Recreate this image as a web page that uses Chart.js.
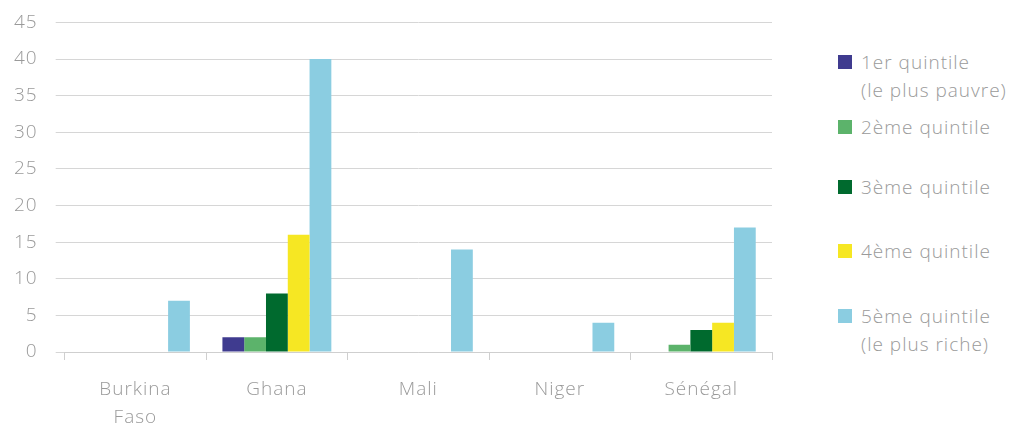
<!DOCTYPE html>
<html>
<head>
<meta charset="utf-8">
<script src="https://cdn.jsdelivr.net/npm/chart.js@4"></script>
<style>
  body { margin: 0; background: #fff; font-family: "Open Sans", sans-serif; overflow: hidden; }
  #wrap { position: relative; width: 1013px; height: 426px; overflow: hidden; }
  #box { position: absolute; left: -8px; top: -7px; width: 798px; height: 454px; }
  #legend { position: absolute; left: 838px; top: 48px; color: #9a9a9a; font-size: 19px; font-weight: 300; letter-spacing: 1px; }
  .item { position: absolute; left: 0; white-space: nowrap; line-height: 28px; }
  .sw { position: absolute; left: 0; top: 7px; width: 14px; height: 14px; }
  .txt { position: absolute; left: 23px; top: 0; }
</style>
</head>
<body>
<div id="wrap">
  <div id="box"><canvas id="chart"></canvas></div>
  <div id="legend"></div>
</div>
<script>
const pays = [['Burkina', 'Faso'], 'Ghana', 'Mali', 'Niger', 'Sénégal'];
const quintiles = [['1er quintile', '(le plus pauvre)'], ['2ème quintile'], ['3ème quintile'], ['4ème quintile'], ['5ème quintile', '(le plus riche)']];
const couleurs = ['#3f3b8f', '#5cb36b', '#006a2e', '#f6e723', '#8bcde1'];
const q1 = [0, 2, 0, 0, 0];
const q2 = [0, 2, 0, 0, 1];
const q3 = [0, 8, 0, 0, 3];
const q4 = [0, 16, 0, 0, 4];
const q5 = [7, 40, 14, 4, 17];
const yTicks = [0, 5, 10, 15, 20, 25, 30, 35, 40, 45];

const series = [q1, q2, q3, q4, q5];
const legendTop = [0, 65, 125, 189, 254];

// legende a droite
const lg = document.getElementById('legend');
quintiles.forEach((q, i) => {
  const d = document.createElement('div');
  d.className = 'item';
  d.style.top = legendTop[i] + 'px';
  d.innerHTML = '<span class="sw" style="background:' + couleurs[i] + '"></span><span class="txt">' + q.join('<br>') + '</span>';
  lg.appendChild(d);
});

// espacement des lettres comme dans l'original
const spacing = {
  id: 'spacing',
  beforeLayout(chart) { chart.ctx.letterSpacing = '1px'; },
  beforeDraw(chart) { chart.ctx.letterSpacing = '1px'; }
};

new Chart(document.getElementById('chart'), {
  type: 'bar',
  data: {
    labels: pays,
    datasets: series.map((s, i) => ({
      label: quintiles[i].join(' '),
      data: s,
      backgroundColor: couleurs[i],
      borderWidth: 0,
      categoryPercentage: 0.77,
      barPercentage: 1
    }))
  },
  options: {
    responsive: true,
    maintainAspectRatio: false,
    animation: false,
    layout: { padding: { left: 4, top: 0, right: 18, bottom: 0 } },
    plugins: { legend: { display: false }, tooltip: { enabled: false } },
    scales: {
      x: {
        grid: { offset: true, drawOnChartArea: false, drawTicks: true, tickLength: 8, color: '#cfcfcf' },
        border: { display: true, color: '#cfcfcf' },
        ticks: { color: '#9a9a9a', padding: 15, font: { family: 'Open Sans', size: 19, weight: 300, lineHeight: 1.5 } }
      },
      y: {
        min: 0,
        max: 45,
        afterBuildTicks: axis => { axis.ticks = yTicks.map(v => ({ value: v })); },
        grid: { color: '#d6d6d6', drawTicks: true, tickLength: 9 },
        border: { display: false },
        ticks: { color: '#9a9a9a', padding: 18, font: { family: 'Open Sans', size: 19, weight: 300 } }
      }
    }
  },
  plugins: [spacing]
});
</script>
</body>
</html>
